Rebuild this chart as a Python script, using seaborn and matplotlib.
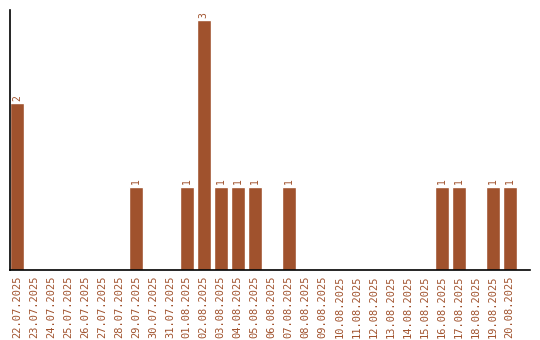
import matplotlib
matplotlib.use("Agg")
import matplotlib.pyplot as plt
import seaborn as sns
import pandas as pd

dates = ["22.07.2025", "23.07.2025", "24.07.2025", "25.07.2025", "26.07.2025",
         "27.07.2025", "28.07.2025", "29.07.2025", "30.07.2025", "31.07.2025",
         "01.08.2025", "02.08.2025", "03.08.2025", "04.08.2025", "05.08.2025",
         "06.08.2025", "07.08.2025", "08.08.2025", "09.08.2025", "10.08.2025",
         "11.08.2025", "12.08.2025", "13.08.2025", "14.08.2025", "15.08.2025",
         "16.08.2025", "17.08.2025", "18.08.2025", "19.08.2025", "20.08.2025"]
counts = [2, 0, 0, 0, 0, 0, 0, 1, 0, 0,
          1, 3, 1, 1, 1, 0, 1, 0, 0, 0,
          0, 0, 0, 0, 0, 1, 1, 0, 1, 1]

color = "#A0522D"
df = pd.DataFrame({"date": dates, "count": counts})

sns.set_style("white")
fig = plt.figure(figsize=(5.4, 3.4), dpi=100)
ax = fig.add_axes([10/540, 70/340, 520/540, 260/340])
sns.barplot(data=df, x="date", y="count", color=color, saturation=1,
            width=0.82, ax=ax)
for p, v in zip(ax.patches, counts):
    if v > 0:
        ax.text(p.get_x() + p.get_width()/2, v + 0.03, str(v),
                rotation=90, ha="center", va="bottom", fontsize=7,
                color=color, family="DejaVu Sans Mono")
ax.set_xlim(-0.41, 30.2)
ax.set_ylim(0, 3.12)
ax.set_xlabel("")
ax.set_ylabel("")
ax.set_yticks([])
ax.tick_params(axis="x", length=0, pad=4)
for lab in ax.get_xticklabels():
    lab.set_rotation(90)
    lab.set_color(color)
    lab.set_fontsize(7.5)
    lab.set_family("DejaVu Sans Mono")
for s in ["top", "right"]:
    ax.spines[s].set_visible(False)
for s in ["left", "bottom"]:
    ax.spines[s].set_color("black")
    ax.spines[s].set_linewidth(1.2)
fig.savefig("out.png", dpi=100)
